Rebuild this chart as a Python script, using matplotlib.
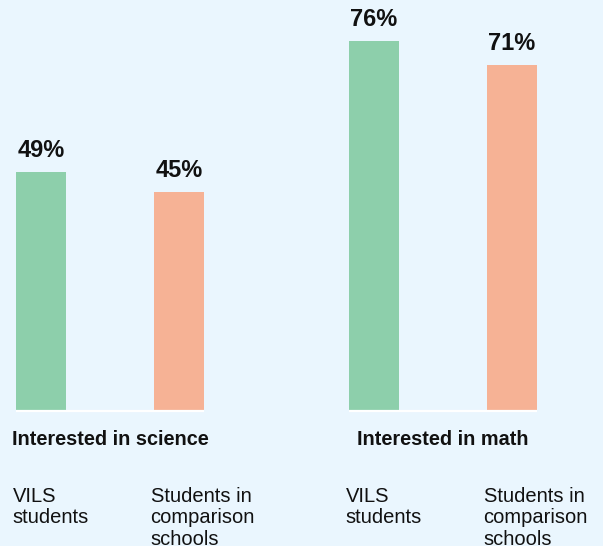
import numpy as np
import matplotlib
matplotlib.use("Agg")
import matplotlib.pyplot as plt

# DATA ########################################################################

groups = ["Interested in science", "Interested in math"]
categories = ["VILS\nstudents", "Students in\ncomparison\nschools"]
vils = [49, 76]
comparison = [45, 71]

# STYLE #######################################################################

bg = "#eaf6fe"
colors = ["#8dcfab", "#f6b295"]
plt.rcParams["font.family"] = ["Liberation Sans", "DejaVu Sans"]

W, H, DPI = 603, 546, 100
bar_w = 50 / 138
group_step = 333 / 138

fig = plt.figure(figsize=(W / DPI, H / DPI), dpi=DPI, facecolor=bg)
ax = fig.add_axes([16 / W, 135 / H, (537 - 16) / W, (H - 135) / H])
ax.set_facecolor(bg)

values = np.array([vils, comparison])  # rows: category, cols: group
for g, gname in enumerate(groups):
    base = g * group_step
    xs = [base + i for i in range(len(categories))]
    for i, x in enumerate(xs):
        ax.bar(x, values[i, g], width=bar_w, color=colors[i], zorder=2)
        ax.annotate(f"{values[i, g]}%", xy=(x, values[i, g]), xytext=(0, 10.8),
                    textcoords="offset points", ha="center", va="baseline",
                    fontsize=17, fontweight="bold", color="#111111")
        ax.annotate(categories[i], xy=(x - bar_w / 2, 0), xytext=(-2.5, -54.5),
                    textcoords="offset points", ha="left", va="top",
                    fontsize=14.5, color="#111111", linespacing=1.18,
                    annotation_clip=False)
    left, right = xs[0] - bar_w / 2, xs[-1] + bar_w / 2
    ax.hlines(0, left, right, colors="white", linewidth=1.6, zorder=3, clip_on=False)
    ax.annotate(gname, xy=((left + right) / 2, 0), xytext=(0, -24.5),
                textcoords="offset points", ha="center", va="baseline",
                fontsize=14.3, fontweight="bold", color="#111111",
                annotation_clip=False)

ax.set_xlim(-bar_w / 2, group_step + 1 + bar_w / 2)
ax.set_ylim(0, (H - 135) / 4.87)
ax.axis("off")

fig.savefig("out.png", dpi=DPI, facecolor=bg)
